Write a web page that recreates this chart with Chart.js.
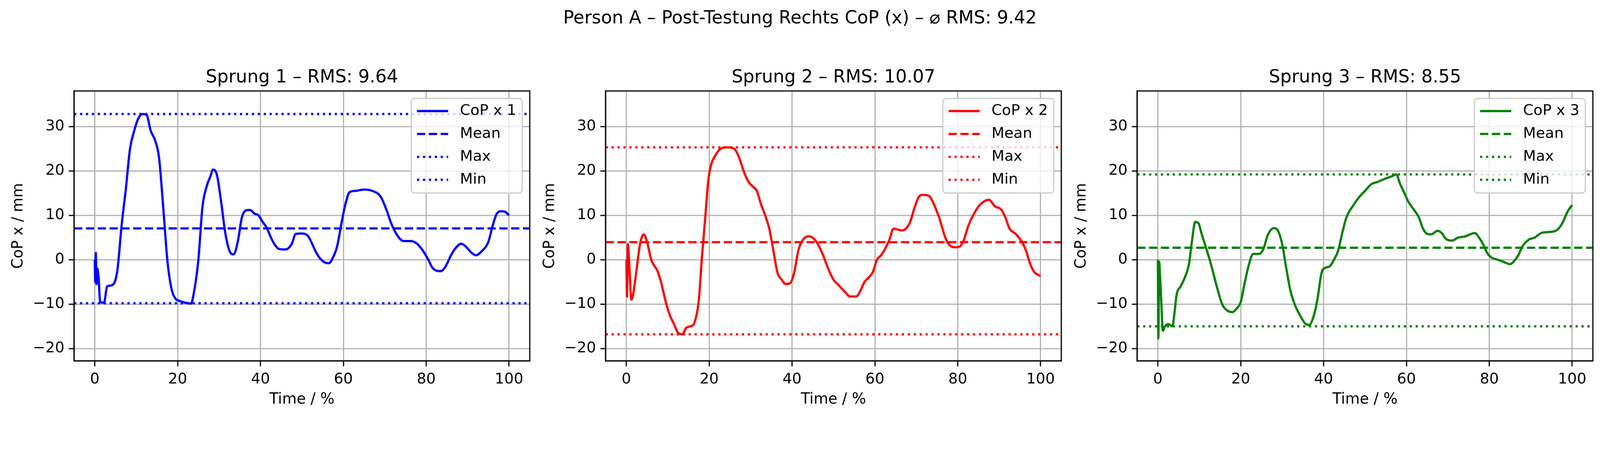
<!DOCTYPE html>
<html>
<head>
<meta charset="utf-8">
<script src="https://cdn.jsdelivr.net/npm/chart.js@4"></script>
<style>
  html, body { margin: 0; padding: 0; background: #fff; overflow: hidden; }
  #stage { position: absolute; left: 0; top: 0; width: 4470px; height: 1167px; transform-origin: 0 0; font-family: "DejaVu Sans", sans-serif; }
  canvas { position: absolute; top: 0; }
  .txt { position: absolute; white-space: nowrap; color: #000; transform: translate(-50%, -50%); }
</style>
</head>
<body>
<div id="stage">
<div class="txt" style="left:2235px; top:49px; font-size:50px;">Person A – Post-Testung Rechts CoP (x) – ⌀ RMS: 9.42</div>
</div>

<script>
// Daten
const titles = ['Sprung 1 – RMS: 9.64', 'Sprung 2 – RMS: 10.07', 'Sprung 3 – RMS: 8.55'];
const labels = ['CoP x 1', 'CoP x 2', 'CoP x 3'];
const colors = ['#0000ff', '#ff0000', '#008000'];
const means = [7.05, 3.95, 2.7];
const maxs = [32.8, 25.3, 19.2];
const mins = [-9.8, -16.8, -15.0];
const xTicks = [0, 20, 40, 60, 80, 100];
const yTicks = [-20, -10, 0, 10, 20, 30];

const t1 = [0,0.1,0.25,0.4,0.6,0.9,1.3,2.2,3,4,5,5.5,6.5,7.5,8.5,9.5,10.5,11.5,12.5,13.5,14.5,15.5,16.5,17.5,18.5,19.5,20.5,21.5,22.5,23.2,24,25,26,27,28,28.5,29.5,30.5,31.5,32.5,33.5,34.5,35.5,36.5,37.5,38.5,39.5,40.5,41.5,42.5,43.5,44.5,46,47.5,48.5,50,51.5,52.5,53.5,55,56.5,57.5,58.5,59.5,60.5,61.5,63,65,67,69,70.5,71.5,73,74.5,76,77.5,79,80.5,81.5,83.5,84.5,86,87,88.5,89.5,91,92,93.5,95,96,97,98,99,100];
const y1 = [0,-5,1.5,-5.5,-2,-4,-9.5,-9.7,-6,-5.8,-4.5,-2,8,16,25,29,31.8,32.8,32.6,29,27,23,12,0,-6.5,-8.8,-9.3,-9.6,-9.8,-9.9,-7,0,12,16.5,19,20.3,19,13,6,2,1.2,4,9.5,11.1,11.2,10.4,10,8.5,7.2,5,3.3,2.4,2.3,3.5,5.8,5.9,5.3,3.5,1.5,-0.3,-0.8,0.5,3,8,12.5,15.2,15.5,15.8,15.5,14.2,11,8.3,5.5,4.2,4.2,3.8,2.3,0,-1.8,-2.6,-1.8,1,2.5,3.6,3,1.5,1,2,4,7.5,10.3,10.9,10.8,10];

const t2 = [0,0.15,0.35,0.6,0.8,1.2,1.6,2.5,3.3,4.2,5,6,6.5,7.5,8.5,9.5,10.5,11.5,12.5,13.5,14.5,15.5,16.5,17.5,18.2,19,19.8,20.5,21.5,22.5,24,26,27,28.5,29.5,30.5,31.5,32.5,33.5,34.5,35.5,36.5,37.5,38.5,39.5,40.5,41.5,42.5,44,45.5,46.5,47.5,48.5,50,51,52,53,54,55.5,56.5,57.5,58.5,59.5,60.5,61.5,62.5,63.5,64.5,65.5,66.5,67.5,68.5,69.5,70.5,71.5,73,74,75.5,77,78,79.5,80.5,81.5,82.5,84,85.5,87.5,89,90.5,91.5,92.5,94,95.5,96.5,97.5,98.5,100];
const y2 = [0,-8.3,3.5,0.5,-3,-9,-8,-2,3.5,5.7,4,0,-1,-2.5,-5.5,-9.5,-12.5,-14.5,-16.5,-16.8,-15.3,-15,-14,-9,0,9,18,21.5,23.5,24.8,25.3,25,23.5,19.5,17.5,16.5,15.5,12.5,10,7,2,-3,-4.5,-5.5,-5.3,-3,2,4.3,5.3,4.5,3,1,-1.5,-4.5,-5.5,-6.5,-7.5,-8.3,-8.3,-7,-5,-4,-2.8,0,1,2.5,4.5,7,6.8,6.6,7,8.5,11.5,14,14.6,14.4,13,9.5,5,3.3,2.8,3,4.5,7.5,10.5,12.5,13.5,12,11.3,9.5,7,5.8,4,2,-1,-2.8,-3.7];

const t3 = [0,0.1,0.3,0.5,0.8,1.2,1.7,2.5,3.5,4,4.5,5.5,6.5,7.5,8.2,9,9.8,10.5,11.5,12.5,13.5,14.5,15.5,16.5,18,19,20,21,22,23,24.5,25.5,26.5,28,29,30,31,32,33,34,35.5,36.5,37.5,38.5,39.5,40.5,41.5,42.5,43.5,44.5,45.5,47,48.5,50,51.5,53,55,56.5,57.5,58.5,59.5,60.5,62,63,64,65,66,67.5,68.5,69.5,71,72.5,74,76.5,77.5,78.5,79.5,80.5,82,83.5,85,86,87,88,89.5,91,92.5,94,96,97.5,99,100];
const y3 = [0,-17.7,-0.5,-3.5,-9,-16,-15,-14.5,-15,-12,-8,-6,-4,-1,4,8.5,8.2,6,3,0,-3.5,-7,-10,-11.3,-11.8,-11,-9.5,-5,-1,1.3,1.3,2.5,5.5,7.1,6.5,3.5,-2,-7,-10,-12,-14.3,-14.7,-13,-9,-3,-1.8,-1.5,0,2,6,9.5,12,14,15.5,17,17.5,18.3,18.8,19.2,17,15,13,11,9.5,7,5.8,5.7,6.5,6,4.7,4.3,5,5.2,6,5,3.5,1.5,0.5,0,-0.5,-1,-0.3,1,3,4.5,5,6,6.2,6.5,8,11,12.3];

const times = [t1, t2, t3];
const values = [y1, y2, y3];

const LW = 6.25;
const DASH = [23, 10];
const DOT = [6.25, 10.3];
const FONT = 'DejaVu Sans';
const PANEL_LEFT = [207, 1692, 3177];
const AX_W = 1273, AX_TOP = 254, AX_BOT = 1008;

const stage = document.getElementById('stage');
// auf Fenstergröße skalieren
const sc = Math.min(window.innerWidth / 4470, window.innerHeight / 1167);
stage.style.transform = `scale(${sc})`;

function hline(v) { return [{ x: -5, y: v }, { x: 105, y: v }]; }

// Rahmen + Legende
const framePlugin = {
  id: 'frame',
  afterDraw(chart) {
    const c = chart.ctx, a = chart.chartArea;
    c.save();
    c.strokeStyle = '#000'; c.lineWidth = 3.3; c.setLineDash([]);
    c.strokeRect(a.left, a.top, a.right - a.left, a.bottom - a.top);
    const col = chart.options.plugins.frame.color;
    const r = a.right - 21, top = a.top + 21, w = 310, h = 264, l = r - w;
    c.beginPath();
    c.roundRect(l, top, w, h, 10);
    c.fillStyle = 'rgba(255,255,255,0.8)'; c.fill();
    c.strokeStyle = '#cccccc'; c.lineWidth = 3.3; c.stroke();
    const rows = [chart.options.plugins.frame.label, 'Mean', 'Max', 'Min'];
    const dashes = [[], DASH, DOT, DOT];
    c.font = '41.7px "' + FONT + '"'; c.textBaseline = 'middle'; c.fillStyle = '#000';
    rows.forEach((txt, i) => {
      const yy = a.top + 56 + i * 64;
      c.beginPath(); c.setLineDash(dashes[i]); c.strokeStyle = col; c.lineWidth = LW;
      c.moveTo(r - 294, yy); c.lineTo(r - 207, yy); c.stroke();
      c.setLineDash([]);
      c.fillText(txt, r - 174, yy);
    });
    c.restore();
  }
};

for (let i = 0; i < 3; i++) {
  const left = PANEL_LEFT[i] - 207;
  const cv = document.createElement('canvas');
  cv.width = 207 + AX_W + 12; cv.height = 1167;
  cv.style.left = left + 'px';
  stage.appendChild(cv);

  const cx = PANEL_LEFT[i] + AX_W / 2;
  const add = (html, style) => {
    const d = document.createElement('div');
    d.className = 'txt'; d.textContent = html; d.style.cssText = style;
    stage.appendChild(d);
  };
  add(titles[i], `left:${cx}px; top:213px; font-size:50px;`);
  add('Time / %', `left:${cx}px; top:1113px; font-size:41.7px;`);
  add('CoP x / mm', `left:${PANEL_LEFT[i] - 159}px; top:${(AX_TOP + AX_BOT) / 2}px; font-size:41.7px; transform:translate(-50%,-50%) rotate(-90deg);`);

  new Chart(cv.getContext('2d'), {
    type: 'scatter',
    data: {
      datasets: [
        { data: times[i].map((t, k) => ({ x: t, y: values[i][k] })), showLine: true, borderColor: colors[i], borderWidth: LW, pointRadius: 0, cubicInterpolationMode: 'monotone' },
        { data: hline(means[i]), showLine: true, borderColor: colors[i], borderWidth: LW, borderDash: DASH, pointRadius: 0 },
        { data: hline(maxs[i]), showLine: true, borderColor: colors[i], borderWidth: LW, borderDash: DOT, pointRadius: 0 },
        { data: hline(mins[i]), showLine: true, borderColor: colors[i], borderWidth: LW, borderDash: DOT, pointRadius: 0 }
      ]
    },
    options: {
      responsive: false, animation: false, devicePixelRatio: 1,
      layout: { padding: { top: AX_TOP, right: 12, left: 0, bottom: 0 } },
      plugins: { legend: { display: false }, tooltip: { enabled: false }, frame: { color: colors[i], label: labels[i] } },
      scales: {
        x: {
          type: 'linear', min: -5, max: 105,
          afterBuildTicks: s => { s.ticks = xTicks.map(v => ({ value: v })); },
          afterFit: s => { s.height = 1167 - AX_BOT; },
          grid: { color: '#b0b0b0', lineWidth: 3.3, tickLength: 15, tickColor: '#000', tickWidth: 3.3 },
          border: { color: '#000', width: 3.3 },
          ticks: { color: '#000', padding: 12, maxRotation: 0, font: { family: FONT, size: 41.7 } }
        },
        y: {
          type: 'linear', min: -22.8, max: 38,
          afterBuildTicks: s => { s.ticks = yTicks.map(v => ({ value: v })); },
          afterFit: s => { s.width = 207; },
          grid: { color: '#b0b0b0', lineWidth: 3.3, tickLength: 15, tickColor: '#000', tickWidth: 3.3 },
          border: { color: '#000', width: 3.3 },
          ticks: { color: '#000', padding: 12, font: { family: FONT, size: 41.7 }, callback: v => v < 0 ? '−' + Math.abs(v) : String(v) }
        }
      }
    },
    plugins: [framePlugin]
  });
}
</script>
</body>
</html>
